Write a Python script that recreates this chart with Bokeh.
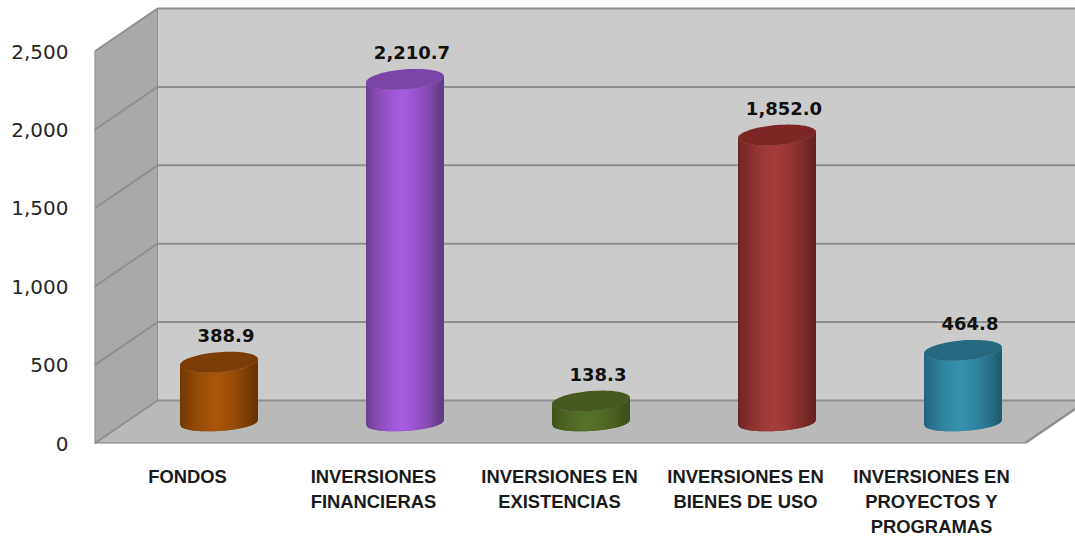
import numpy as np
from bokeh.plotting import figure
from bokeh.models import FixedTicker, NumeralTickFormatter, Range1d
from bokeh.core.properties import value
from bokeh.embed import file_html
from bokeh.resources import INLINE

categories = ["FONDOS", "INVERSIONES\nFINANCIERAS", "INVERSIONES EN\nEXISTENCIAS",
              "INVERSIONES EN\nBIENES DE USO", "INVERSIONES EN\nPROYECTOS Y\nPROGRAMAS"]
values = [388.9, 2210.7, 138.3, 1852.0, 464.8]
labels = ["388.9", "2,210.7", "138.3", "1,852.0", "464.8"]
yticks = [0, 500, 1000, 1500, 2000, 2500]
body_mid = ["#a8540a", "#a65ade", "#567026", "#a33c3c", "#3590ae"]
body_edge = ["#6a3304", "#623a86", "#3e4f18", "#672020", "#1f5d75"]
top_cols = ["#7c3c06", "#7b45a8", "#47591f", "#7c2626", "#26697f"]

PX_Y = 392 / 2500           # px per value unit
PX_X = 186.0                # px per category
DX, DY = 63 / PX_X, 43 / PX_Y  # 3D depth offset
XMAX = 981 / PX_X
YMAX = 443 / PX_Y

p = figure(width=1075, height=540, frame_width=981, frame_height=443,
           x_range=Range1d(0, XMAX), y_range=Range1d(0, YMAX),
           output_backend="svg", toolbar_location=None,
           min_border_left=94, min_border_right=0, min_border_top=0, min_border_bottom=97)
p.outline_line_color = None
p.xgrid.visible = False
p.ygrid.visible = False
p.background_fill_color = None

WALL_LINE = "#8f8f8f"
# back wall, side wall, floor
p.patch([DX, XMAX + 1, XMAX + 1, DX], [DY, DY, 2500 + DY, 2500 + DY], fill_color="#cbcbcb", line_color=None)
p.patch([0, DX, DX, 0], [0, DY, 2500 + DY, 2500], fill_color="#a9a9a9", line_color=None)
p.patch([0, 5, 5 + DX, DX], [0, 0, DY, DY], fill_color="#b9b9b9", line_color=None)

# gridlines
for t in yticks:
    p.line([0, DX, XMAX + 1], [t, t + DY, t + DY], line_color=WALL_LINE, line_width=2)
p.line([0, 0], [0, 2500], line_color=WALL_LINE, line_width=2)
p.line([DX, DX], [DY, 2500 + DY], line_color=WALL_LINE, line_width=1)
p.line([0, 5, 5 + DX], [0, 0, DY], line_color=WALL_LINE, line_width=2.5)

# cylinders
HALF_W = 39 / PX_X
RY_B, RY_T = 8.5 / PX_Y, 10 / PX_Y
TILT = 3 / PX_Y
BASE = 21 / PX_Y
N = 78
edges = np.linspace(-1, 1, N + 1)


def hex2rgb(h):
    return np.array([int(h[i:i + 2], 16) for i in (1, 3, 5)], float)


def rgb2hex(c):
    return "#%02x%02x%02x" % tuple(int(round(v)) for v in c)


for i, v in enumerate(values):
    cx = i + 0.5 + DX / 2
    ytop = BASE + v * 0.99
    xs, ys, cols = [], [], []
    mid, edge = hex2rgb(body_mid[i]), hex2rgb(body_edge[i])
    for a, b in zip(edges[:-1], edges[1:]):
        b2 = min(b + 2 / N, 1)
        tt = np.array([a, b2, b2, a])
        sq = np.sqrt(np.clip(1 - tt ** 2, 0, 1))
        low = BASE - RY_B * sq + TILT * tt * 0.8
        up = ytop - RY_T * sq + TILT * tt
        xs.append(list(cx + HALF_W * tt))
        ys.append([low[0], low[1], up[2], up[3]])
        m = (a + b) / 2 + 0.08
        w = min(abs(m), 1) ** 1.6
        cols.append(rgb2hex(mid * (1 - w) + edge * w))
    p.patches(xs, ys, fill_color=cols, line_color=None)
    th = np.linspace(0, 2 * np.pi, 73)
    tt = np.cos(th)
    p.patch(cx + HALF_W * tt, ytop + RY_T * np.sin(th) + TILT * tt, fill_color=top_cols[i], line_color=None)
    p.text([cx + 7 / PX_X], [ytop + 27 / PX_Y], text=[labels[i]], text_align="center", text_baseline="middle",
           text_font=value("DejaVu Sans"), text_font_style="bold", text_font_size="18px", text_color="#111111")

# axes
ya = p.yaxis[0]
ya.ticker = FixedTicker(ticks=yticks)
ya.formatter = NumeralTickFormatter(format="0,0")
ya.axis_line_color = None
ya.major_tick_line_color = None
ya.minor_tick_line_color = None
ya.major_label_standoff = 20
ya.major_label_text_font = "DejaVu Sans"
ya.major_label_text_font_size = "20px"
ya.major_label_text_color = "#262626"

xa = p.xaxis[0]
xticks = [i + 0.5 for i in range(len(categories))]
xa.ticker = FixedTicker(ticks=xticks)
xa.major_label_overrides = {t: c for t, c in zip(xticks, categories)}
xa.axis_line_color = None
xa.major_tick_line_color = None
xa.minor_tick_line_color = None
xa.major_label_standoff = 16
xa.major_label_text_font = "Liberation Sans"
xa.major_label_text_font_style = "bold"
xa.major_label_text_font_size = "18.4px"
xa.major_label_text_color = "#1a1a1a"

open("out.html", "w").write(file_html(p, INLINE))
